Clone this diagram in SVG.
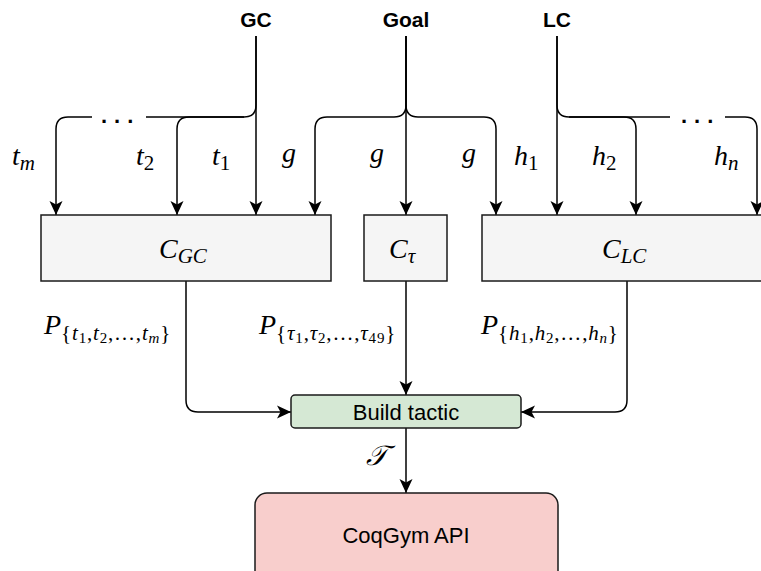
<svg xmlns="http://www.w3.org/2000/svg" width="761" height="571" viewBox="0 0 761 571">
  <style>
    .edge { fill: none; stroke: #000; stroke-width: 1.5; }
    .arr { marker-end: url(#arrow); }
    .box { stroke: #1a1a1a; stroke-width: 1.5; }
    .grey { fill: #f5f5f5; }
    .green { fill: #d5e8d4; }
    .red { fill: #f8cecc; }
    .hdr { font-family: "Liberation Sans", Arial, sans-serif; font-weight: bold; font-size: 21px; fill: #000; text-anchor: middle; }
    .lbl { font-family: "Liberation Sans", Arial, sans-serif; font-size: 22px; fill: #000; text-anchor: middle; }
    .dots { font-family: "Liberation Sans", Arial, sans-serif; font-weight: bold; font-size: 22px; letter-spacing: 7px; fill: #000; }
    .m { font-family: "Liberation Serif", "Times New Roman", serif; font-style: italic; font-size: 28px; fill: #000; }
    .s { font-size: 21px; }
    .ss { font-size: 15px; }
    .n { font-style: normal; }
    .prob tspan { letter-spacing: 0.8px; }
  </style>
  <defs>
    <marker id="arrow" viewBox="0 0 14 14" refX="14" refY="7" markerWidth="14" markerHeight="14" markerUnits="userSpaceOnUse" orient="auto">
      <path d="M0,0.5 L14,7 L0,13.5 L3.5,7 Z" fill="#000"/>
    </marker>
  </defs>

  <rect width="761" height="571" fill="#fff"/>

  <!-- connectors -->
  <g id="connectors">
    <!-- GC fan-out -->
    <path class="edge arr" d="M256,36 V215"/>
    <path class="edge arr" d="M256,36 V105 Q256,117 244,117 H189 Q177,117 177,129 V215"/>
    <path class="edge arr" d="M244,117 H146 M92,117 H68 Q56,117 56,129 V215"/>
    <!-- Goal fan-out -->
    <path class="edge arr" d="M406,36 V215"/>
    <path class="edge arr" d="M406,36 V105 Q406,117 394,117 H327 Q315,117 315,129 V215"/>
    <path class="edge arr" d="M406,36 V105 Q406,117 418,117 H484 Q496,117 496,129 V215"/>
    <!-- LC fan-out -->
    <path class="edge arr" d="M557,36 V215"/>
    <path class="edge arr" d="M557,36 V105 Q557,117 569,117 H624 Q636,117 636,129 V215"/>
    <path class="edge arr" d="M569,117 H670 M725,117 H745 Q757,117 757,129 V215"/>
    <!-- classifier outputs -->
    <path class="edge arr" d="M186,281 V400 Q186,412 198,412 H291"/>
    <path class="edge arr" d="M406,281 V395"/>
    <path class="edge arr" d="M627,281 V400 Q627,412 615,412 H521"/>
    <path class="edge arr" d="M406,428 V493"/>

    <!-- edge labels -->
    <text class="dots" x="101" y="123">...</text>
    <text class="dots" x="681" y="123">...</text>

    <text class="m" x="12" y="165">t<tspan class="s" dy="5">m</tspan></text>
    <text class="m" x="136" y="165">t<tspan class="s n" dy="5">2</tspan></text>
    <text class="m" x="212" y="165">t<tspan class="s n" dy="5">1</tspan></text>
    <text class="m" x="282" y="162">g</text>
    <text class="m" x="370" y="162">g</text>
    <text class="m" x="462" y="162">g</text>
    <text class="m" x="514" y="165">h<tspan class="s n" dy="5">1</tspan></text>
    <text class="m" x="592" y="165">h<tspan class="s n" dy="5">2</tspan></text>
    <text class="m" x="714" y="165">h<tspan class="s" dy="5">n</tspan></text>

    <text class="m prob" x="44" y="334">P<tspan class="s n" dy="6">{</tspan><tspan class="s">t</tspan><tspan class="ss n" dy="3">1</tspan><tspan class="s n" dy="-3">,</tspan><tspan class="s">t</tspan><tspan class="ss n" dy="3">2</tspan><tspan class="s n" dy="-3">,…,</tspan><tspan class="s">t</tspan><tspan class="ss" dy="3">m</tspan><tspan class="s n" dy="-3">}</tspan></text>
    <text class="m prob" x="259" y="334">P<tspan class="s n" dy="6">{</tspan><tspan class="s">τ</tspan><tspan class="ss n" dy="3">1</tspan><tspan class="s n" dy="-3">,</tspan><tspan class="s">τ</tspan><tspan class="ss n" dy="3">2</tspan><tspan class="s n" dy="-3">,…,</tspan><tspan class="s">τ</tspan><tspan class="ss n" dy="3">49</tspan><tspan class="s n" dy="-3">}</tspan></text>
    <text class="m prob" x="481" y="334">P<tspan class="s n" dy="6">{</tspan><tspan class="s">h</tspan><tspan class="ss n" dy="3">1</tspan><tspan class="s n" dy="-3">,</tspan><tspan class="s">h</tspan><tspan class="ss n" dy="3">2</tspan><tspan class="s n" dy="-3">,…,</tspan><tspan class="s">h</tspan><tspan class="ss" dy="3">n</tspan><tspan class="s n" dy="-3">}</tspan></text>

    <text class="m" x="366" y="465">𝒯</text>
  </g>

  <!-- input sources -->
  <g id="gc"><text class="hdr" x="256" y="27">GC</text></g>
  <g id="goal"><text class="hdr" x="406" y="27">Goal</text></g>
  <g id="lc"><text class="hdr" x="557" y="27">LC</text></g>

  <!-- classifiers -->
  <g id="c-gc">
    <rect class="box grey" x="41" y="215" width="290" height="66"/>
    <text class="m" x="159" y="258">C<tspan class="s" dy="5">GC</tspan></text>
  </g>
  <g id="c-tau">
    <rect class="box grey" x="364" y="215" width="83" height="66"/>
    <text class="m" x="389" y="258">C<tspan class="s" dy="5">τ</tspan></text>
  </g>
  <g id="c-lc">
    <rect class="box grey" x="482" y="215" width="300" height="66"/>
    <text class="m" x="602" y="258">C<tspan class="s" dy="5">LC</tspan></text>
  </g>

  <!-- tactic assembly -->
  <g id="build-tactic">
    <rect class="box green" x="291" y="395" width="230" height="33" rx="4"/>
    <text class="lbl" x="406" y="420">Build tactic</text>
  </g>
  <g id="coqgym-api">
    <rect class="box red" x="255" y="493" width="303" height="100" rx="12"/>
    <text class="lbl" x="406" y="543">CoqGym API</text>
  </g>
</svg>
